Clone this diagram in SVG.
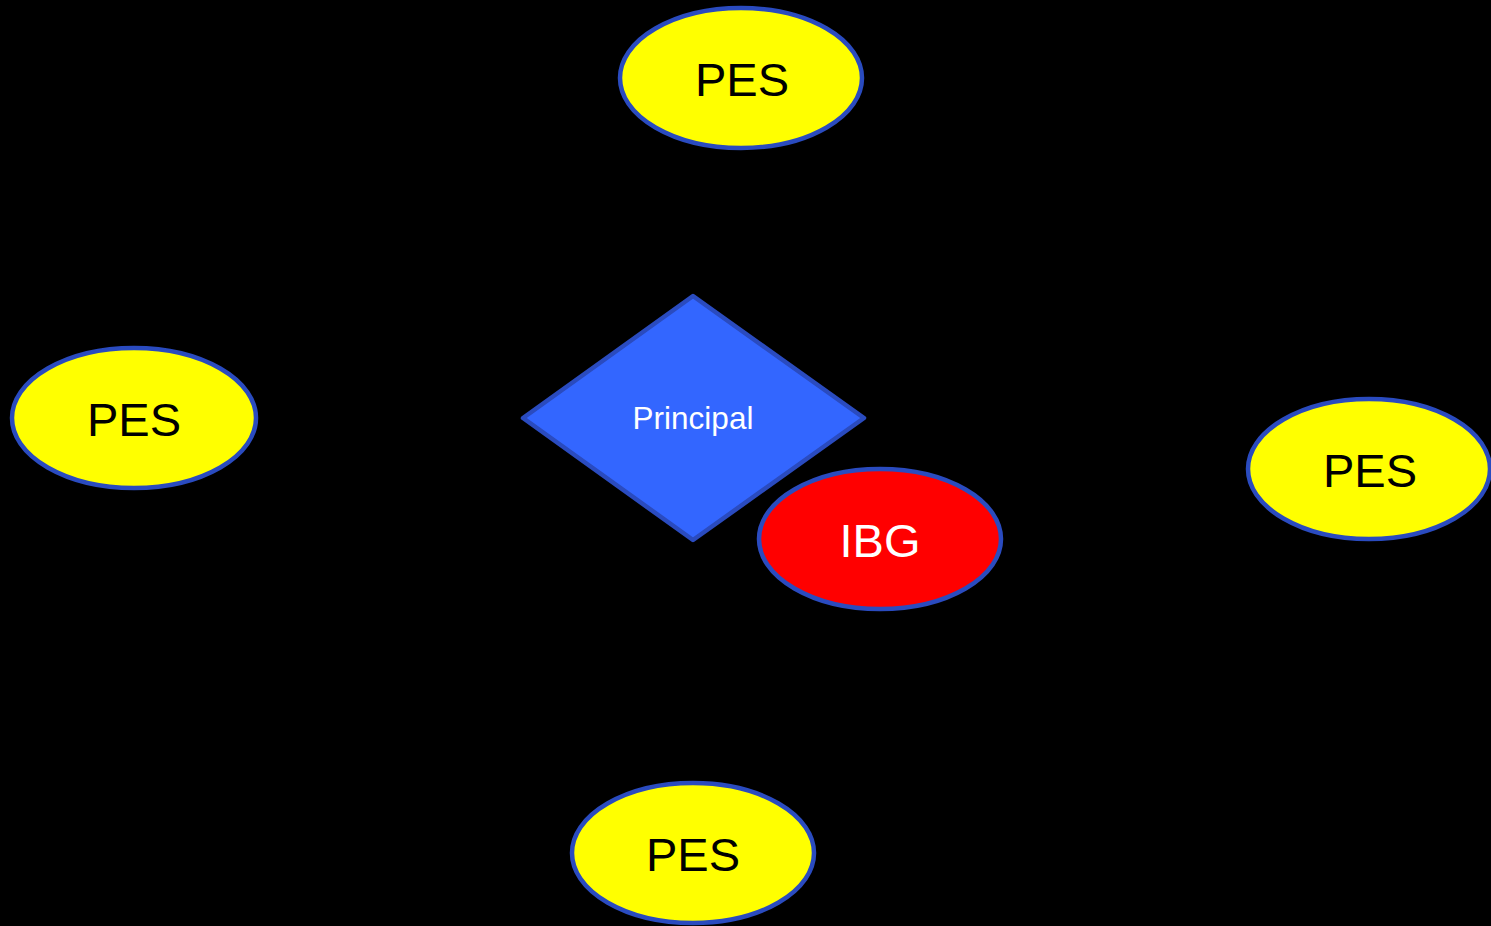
<svg xmlns="http://www.w3.org/2000/svg" width="1491" height="926" viewBox="0 0 1491 926">
<style>
.pes{fill:#FFFF00;stroke:#2A4BBF;stroke-width:4.5}
.ibg{fill:#FF0000;stroke:#2A4BBF;stroke-width:4.5}
.dia{fill:#3366FF;stroke:#2A4BBF;stroke-width:4.5;stroke-linejoin:round}
.big{font-family:"Liberation Sans",Arial,sans-serif;font-size:47px;text-anchor:middle}
.small{font-family:"Liberation Sans",Arial,sans-serif;font-size:31.5px;text-anchor:middle;fill:#FFFFFF}
</style>
<rect width="1491" height="926" fill="#000000"/>
<g id="connectors"></g>
<g id="pes-top">
<ellipse class="pes" cx="741" cy="78" rx="121" ry="70"/>
<text class="big" x="742" y="96" fill="#000000">PES</text>
</g>
<g id="pes-left">
<ellipse class="pes" cx="134" cy="418" rx="122" ry="70"/>
<text class="big" x="134" y="436" fill="#000000">PES</text>
</g>
<g id="pes-right">
<ellipse class="pes" cx="1369" cy="469" rx="121" ry="70"/>
<text class="big" x="1370" y="487" fill="#000000">PES</text>
</g>
<g id="pes-bottom">
<ellipse class="pes" cx="693" cy="853" rx="121" ry="70"/>
<text class="big" x="693" y="871" fill="#000000">PES</text>
</g>
<g id="principal">
<polygon class="dia" points="693,296 864,418 693,540 523,418"/>
<text class="small" x="693" y="429">Principal</text>
</g>
<g id="ibg">
<ellipse class="ibg" cx="880" cy="539" rx="121" ry="70"/>
<text class="big" x="880" y="557" fill="#FFFFFF">IBG</text>
</g>
</svg>
